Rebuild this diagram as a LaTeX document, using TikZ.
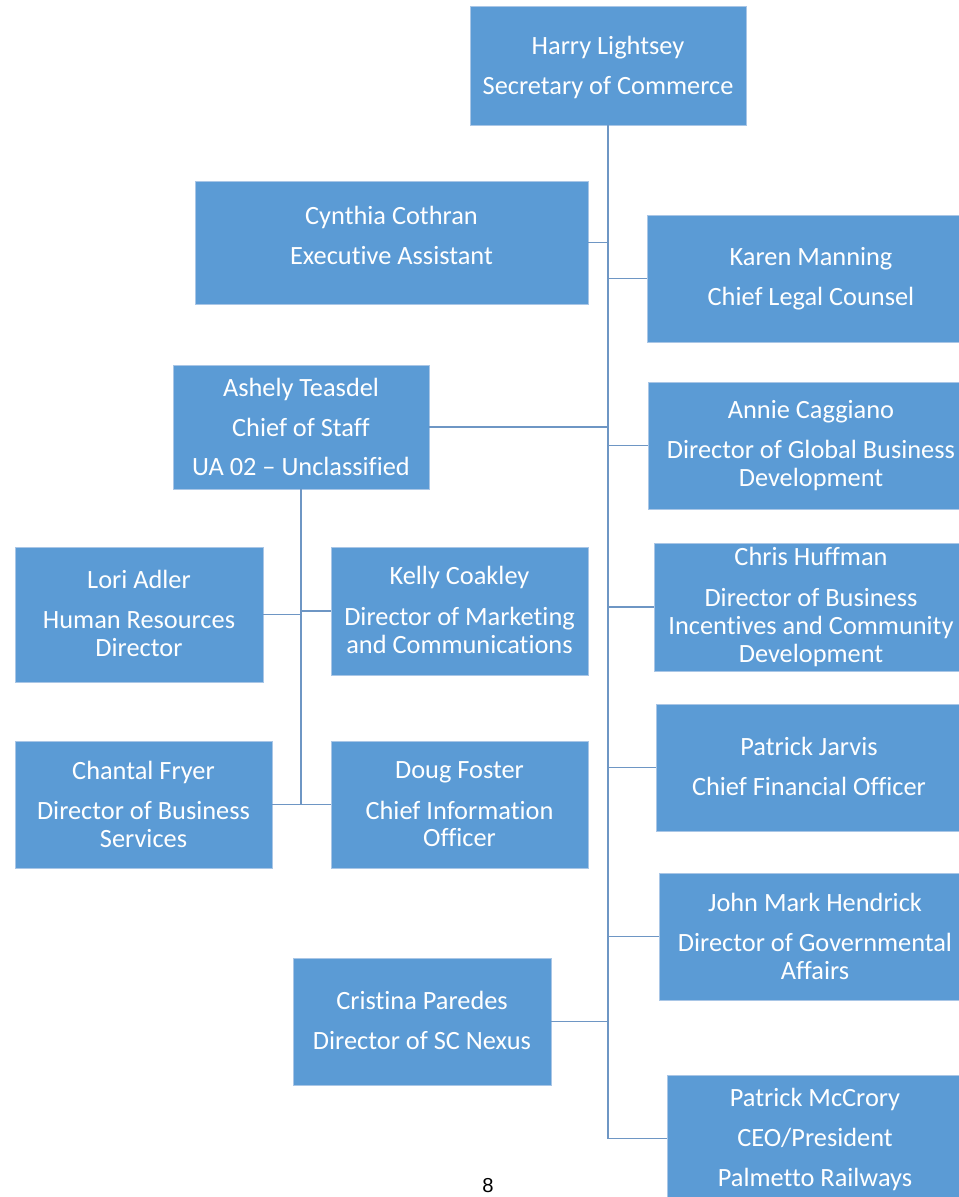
\documentclass[tikz,border=0pt]{standalone}
\usepackage{fontspec}
\setmainfont[Ligatures=NoCommon]{Carlito}
\newfontfamily\pagefont{Liberation Sans}
\definecolor{boxblue}{HTML}{5B9BD5}
\definecolor{boxedge}{HTML}{A9C6E6}
\definecolor{linkblue}{HTML}{6E96C4}
\tikzset{
  orgbox/.style={fill=boxblue, draw=boxedge, line width=0.5pt, inner sep=0pt},
  boxtext/.style={text=white, align=center, inner sep=0pt, font=\fontsize{15}{15.9}\selectfont},
  link/.style={draw=linkblue, line width=1.1pt},
}
% \obox[text shift in px]{name}{x1}{y1}{x2}{y2}{text}
\newcommand{\obox}[7][0]{%
  \node[orgbox, minimum width={(#5-#3)*0.02cm}, minimum height={(#6-#4)*0.02cm}]
    (#2) at ({(#3+#5)/2},{(#4+#6)/2}) {};
  \node[boxtext] (#2t) at ([yshift={(#1)*0.02cm}]#2.center) {#7};}
\begin{document}
\begin{tikzpicture}[x=0.02cm,y=-0.02cm]
\useasboundingbox (0,0) rectangle (958,1197);
\obox[-2]{harry}{470}{6}{746}{125}{Harry Lightsey\\[7pt]Secretary of Commerce}
\obox[7]{cyn}{195}{181}{588}{304}{Cynthia Cothran\\[7pt]Executive Assistant}
\obox{karen}{647}{215}{975}{342}{Karen Manning\\[7pt]Chief Legal Counsel}
\obox{ash}{173}{365}{429}{489}{Ashely Teasdel\\[7pt]Chief of Staff\\[6pt]UA 02 -- Unclassified}
\obox{annie}{648}{382}{974}{509}{Annie Caggiano\\[7pt]Director of Global Business\\Development}
\obox[1]{lori}{15}{547}{263}{682}{Lori Adler\\[7pt]Human Resources\\Director}
\obox[1]{kelly}{331}{547}{588}{675}{Kelly Coakley\\[7pt]Director of Marketing\\and Communications}
\obox{chris}{654}{543}{968}{671}{Chris Huffman\\[7pt]Director of Business\\Incentives and Community\\Development}
\obox{chan}{15}{741}{272}{868}{Chantal Fryer\\[7pt]Director of Business\\Services}
\obox{doug}{331}{741}{588}{868}{Doug Foster\\[7pt]Chief Information\\Officer}
\obox[1]{jarvis}{656}{704}{962}{831}{Patrick Jarvis\\[7pt]Chief Financial Officer}
\obox{john}{659}{873}{971}{1000}{John Mark Hendrick\\[7pt]Director of Governmental\\Affairs}
\obox[1]{cris}{293}{958}{551}{1085}{Cristina Paredes\\[7pt]Director of SC Nexus}
\obox[-1]{mcc}{667}{1075}{963}{1202}{Patrick McCrory\\[7pt]CEO/President\\[7pt]Palmetto Railways}
\node[font=\pagefont\fontsize{11.5}{13}\selectfont, text=black] (pg) at (488,1186) {8};
% main trunk
\coordinate (trunkend) at (harry.south |- mcc.west);
\draw[link] (harry.south) -- (trunkend);
\foreach \n in {cyn,ash,cris}{\draw[link] (\n.east) -- (\n.east -| harry.south);}
\foreach \n in {karen,annie,chris,jarvis,john,mcc}{\draw[link] (\n.west) -- (\n.west -| harry.south);}
% chief of staff trunk
\draw[link] (ash.south) -- (ash.south |- chan.east);
\foreach \n in {lori,chan}{\draw[link] (\n.east) -- (\n.east -| ash.south);}
\foreach \n in {kelly,doug}{\draw[link] (\n.west) -- (\n.west -| ash.south);}
\end{tikzpicture}
\end{document}
